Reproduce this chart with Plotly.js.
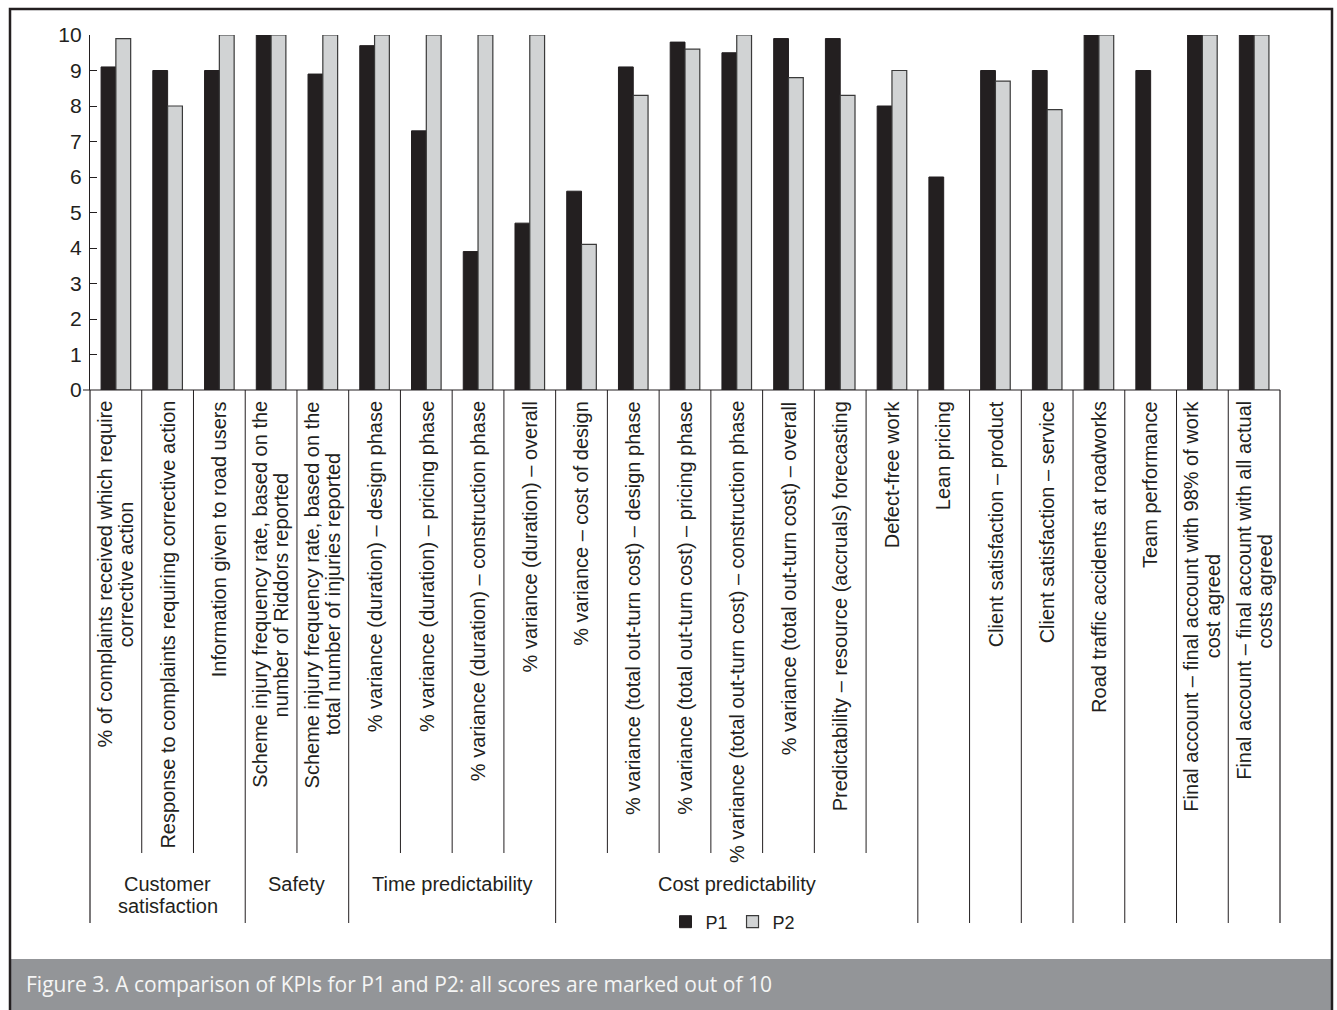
<!DOCTYPE html>
<html>
<head>
<meta charset="utf-8">
<script src="https://cdn.plot.ly/plotly-3.0.1.min.js"></script>
<style>
html,body{margin:0;padding:0;background:#ffffff;}
#chart{width:1337px;height:1010px;}
</style>
</head>
<body>
<div id="chart"></div>
<script>
// ---------- data ----------
const categoryLines = [
  ["% of complaints received which require", "corrective action"],
  ["Response to complaints requiring corrective action"],
  ["Information given to road users"],
  ["Scheme injury frequency rate, based on the", "number of Riddors reported"],
  ["Scheme injury frequency rate, based on the", "total number of injuries reported"],
  ["% variance (duration) – design phase"],
  ["% variance (duration) – pricing phase"],
  ["% variance (duration) – construction phase"],
  ["% variance (duration) – overall"],
  ["% variance – cost of design"],
  ["% variance (total out-turn cost) – design phase"],
  ["% variance (total out-turn cost) – pricing phase"],
  ["% variance (total out-turn cost) – construction phase"],
  ["% variance (total out-turn cost) – overall"],
  ["Predictability – resource (accruals) forecasting"],
  ["Defect-free work"],
  ["Lean pricing"],
  ["Client satisfaction – product"],
  ["Client satisfaction – service"],
  ["Road traffic accidents at roadworks"],
  ["Team performance"],
  ["Final account – final account with 98% of work", "cost agreed"],
  ["Final account – final account with all actual", "costs agreed"]
];
const groupNames = [["Customer", "satisfaction"], ["Safety"], ["Time predictability"], ["Cost predictability"]];
const groupFirst = [0, 3, 5, 9];
const groupLast = [2, 4, 8, 15];
const seriesNames = ["P1", "P2"];
const p1Scores = [9.1, 9.0, 9.0, 10, 8.9, 9.7, 7.3, 3.9, 4.7, 5.6, 9.1, 9.8, 9.5, 9.9, 9.9, 8.0, 6.0, 9.0, 9.0, 10, 9.0, 10, 10];
const p2Scores = [9.9, 8.0, 10, 10, 10, 10, 10, 10, 10, 4.1, 8.3, 9.6, 10, 8.8, 8.3, 9.0, null, 8.7, 7.9, 10, null, 10, 10];
const yTickValues = [0, 1, 2, 3, 4, 5, 6, 7, 8, 9, 10];
const captionText = "Figure 3. A comparison of KPIs for P1 and P2: all scores are marked out of 10";

// ---------- styling / geometry ----------
const W = 1337, H = 1010;
const M = {l: 90, r: 57, t: 35, b: 620};
const plotW = W - M.l - M.r, plotH = H - M.t - M.b;
const ink = "#231f20";
const FONT = '"Liberation Sans", Arial, Helvetica, sans-serif';
const px2x = px => (px - M.l) / plotW;
const py2y = py => (M.t + plotH - py) / plotH;

const categories = categoryLines.map(l => l.join(" "));

const ctx = document.createElement("canvas").getContext("2d");
ctx.font = '20px "Liberation Sans"';
const textW = s => ctx.measureText(s).width;

const traces = [
  {type: "bar", name: seriesNames[0], x: categories, y: p1Scores,
   marker: {color: ink, line: {color: ink, width: 1}}, hoverinfo: "skip"},
  {type: "bar", name: seriesNames[1], x: categories, y: p2Scores,
   marker: {color: "#d1d3d4", line: {color: "#3a3a3a", width: 1.2}}, hoverinfo: "skip"}
];

const annotations = [];
const labelTop = 401, lineStep = 21.7;
categoryLines.forEach((lines, i) => {
  const wmax = Math.max(...lines.map(textW));
  const n = lines.length;
  lines.forEach((ln, j) => {
    annotations.push({
      x: categories[i], xref: "x", xshift: (j - (n - 1) / 2) * lineStep,
      y: py2y(labelTop + wmax / 2), yref: "paper",
      xanchor: "center", yanchor: "middle", textangle: -90, showarrow: false,
      text: ln, font: {family: FONT, size: 20, color: ink}
    });
  });
});
groupNames.forEach((lines, g) => {
  lines.forEach((ln, j) => {
    annotations.push({
      x: (groupFirst[g] + groupLast[g]) / 2, xref: "x",
      y: py2y(884 + j * 22), yref: "paper", xanchor: "center", yanchor: "middle",
      showarrow: false, text: ln, font: {family: FONT, size: 20, color: ink}
    });
  });
});
annotations.push({
  x: px2x(24), xref: "paper", y: py2y(984), yref: "paper",
  xanchor: "left", yanchor: "middle", showarrow: false, text: captionText,
  font: {family: '"Open Sans", Lato, sans-serif', size: 21, color: "#f5f5f5"}
});

const shapes = [];
// caption band and frame
shapes.push({type: "rect", xref: "paper", yref: "paper", x0: px2x(10), x1: px2x(1332),
  y0: py2y(959), y1: py2y(1014), fillcolor: "#939598", line: {width: 0}, layer: "below"});
shapes.push({type: "rect", xref: "paper", yref: "paper", x0: px2x(10), x1: px2x(1332),
  y0: py2y(9), y1: py2y(1014), fillcolor: "rgba(0,0,0,0)", line: {color: ink, width: 2.5}, layer: "above"});
// x axis line
shapes.push({type: "line", xref: "paper", yref: "paper", x0: px2x(83), x1: 1, y0: 0, y1: 0,
  line: {color: ink, width: 1.2}});
// separators between categories
const shortEnd = py2y(853), longEnd = py2y(923);
shapes.push({type: "line", xref: "paper", yref: "paper", x0: 0, x1: 0, y0: 0, y1: longEnd, line: {color: ink, width: 1.2}});
shapes.push({type: "line", xref: "paper", yref: "paper", x0: 1, x1: 1, y0: 0, y1: longEnd, line: {color: ink, width: 1.2}});
for (let i = 0; i < categories.length - 1; i++) {
  let inside = false;
  groupFirst.forEach((f, g) => { if (i >= f && i < groupLast[g]) inside = true; });
  shapes.push({type: "line", xref: "x", yref: "paper", x0: i + 0.5, x1: i + 0.5,
    y0: 0, y1: inside ? shortEnd : longEnd, line: {color: ink, width: 1}});
}

const layout = {
  width: W, height: H, margin: M,
  paper_bgcolor: "#ffffff", plot_bgcolor: "#ffffff",
  barmode: "group", bargap: 0.428, bargroupgap: 0,
  font: {family: FONT, color: ink},
  xaxis: {type: "category", range: [-0.5, categories.length - 0.5], showticklabels: false,
    ticks: "", showline: false, showgrid: false, zeroline: false, fixedrange: true},
  yaxis: {range: [0, 10], tickvals: yTickValues, ticks: "inside", ticklen: 7, tickwidth: 1,
    tickcolor: ink, showline: true, linecolor: ink, linewidth: 1.2, showgrid: false,
    zeroline: false, ticklabelstandoff: 3, tickfont: {family: FONT, size: 21, color: ink}, fixedrange: true},
  showlegend: true,
  legend: {orientation: "h", x: px2x(733), xanchor: "center", y: py2y(922), yanchor: "middle",
    font: {family: FONT, size: 18, color: ink}, bgcolor: "rgba(0,0,0,0)", traceorder: "normal"},
  annotations: annotations,
  shapes: shapes
};

Plotly.newPlot("chart", traces, layout, {displayModeBar: false, staticPlot: true});
</script>
</body>
</html>
